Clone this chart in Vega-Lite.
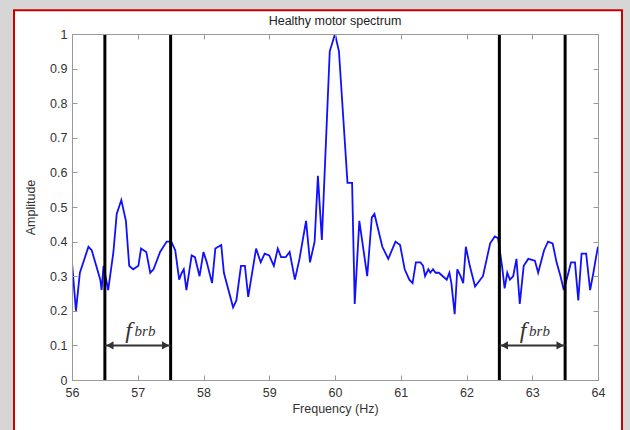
{
  "$schema": "https://vega.github.io/schema/vega-lite/v6.json",
  "width": 526,
  "height": 346,
  "autosize": "none",
  "padding": {"left": 72, "top": 34, "right": 32, "bottom": 50},
  "background": "#d6d6d6",
  "title": {"text": "Healthy motor spectrum", "font": "Liberation Sans", "fontSize": 12.5, "fontWeight": "normal", "color": "#222", "offset": -18},
  "config": {
    "view": {"stroke": null},
    "axis": {"labelFont": "Liberation Sans", "labelFontSize": 12.5, "labelColor": "#333", "titleFont": "Liberation Sans", "titleFontSize": 12.5, "titleFontWeight": "normal", "titleColor": "#333", "tickColor": "#999", "domain": true, "domainColor": "#9a9a9a", "domainWidth": 1, "grid": false, "tickSize": -5, "labelFlush": false}
  },
  "datasets": {
    "spectrum": [
      {"f":56.00,"a":0.34},{"f":56.06,"a":0.20},{"f":56.12,"a":0.31},{"f":56.25,"a":0.385},{"f":56.30,"a":0.375},
      {"f":56.43,"a":0.29},{"f":56.45,"a":0.26},{"f":56.48,"a":0.33},{"f":56.55,"a":0.26},{"f":56.63,"a":0.37},
      {"f":56.68,"a":0.48},{"f":56.75,"a":0.52},{"f":56.82,"a":0.46},{"f":56.87,"a":0.33},{"f":56.93,"a":0.32},
      {"f":57.01,"a":0.33},{"f":57.05,"a":0.38},{"f":57.13,"a":0.37},{"f":57.19,"a":0.31},{"f":57.24,"a":0.32},
      {"f":57.34,"a":0.37},{"f":57.44,"a":0.40},{"f":57.51,"a":0.40},{"f":57.57,"a":0.375},{"f":57.63,"a":0.29},
      {"f":57.67,"a":0.31},{"f":57.70,"a":0.32},{"f":57.74,"a":0.26},{"f":57.82,"a":0.36},{"f":57.87,"a":0.355},
      {"f":57.94,"a":0.30},{"f":58.00,"a":0.37},{"f":58.05,"a":0.34},{"f":58.13,"a":0.28},{"f":58.18,"a":0.38},
      {"f":58.27,"a":0.39},{"f":58.31,"a":0.31},{"f":58.45,"a":0.21},{"f":58.50,"a":0.23},{"f":58.57,"a":0.33},
      {"f":58.63,"a":0.33},{"f":58.68,"a":0.24},{"f":58.80,"a":0.38},{"f":58.87,"a":0.34},{"f":58.93,"a":0.365},
      {"f":59.00,"a":0.36},{"f":59.07,"a":0.33},{"f":59.13,"a":0.38},{"f":59.18,"a":0.355},{"f":59.25,"a":0.355},
      {"f":59.31,"a":0.37},{"f":59.39,"a":0.29},{"f":59.46,"a":0.35},{"f":59.56,"a":0.46},{"f":59.62,"a":0.34},
      {"f":59.69,"a":0.40},{"f":59.74,"a":0.59},{"f":59.80,"a":0.405},{"f":59.92,"a":0.95},{"f":60.00,"a":1.0},
      {"f":60.06,"a":0.95},{"f":60.19,"a":0.57},{"f":60.26,"a":0.57},{"f":60.30,"a":0.22},{"f":60.37,"a":0.46},
      {"f":60.49,"a":0.30},{"f":60.56,"a":0.47},{"f":60.60,"a":0.48},{"f":60.72,"a":0.385},{"f":60.81,"a":0.35},
      {"f":60.92,"a":0.40},{"f":60.99,"a":0.39},{"f":61.06,"a":0.32},{"f":61.13,"a":0.29},{"f":61.18,"a":0.28},
      {"f":61.23,"a":0.34},{"f":61.30,"a":0.34},{"f":61.34,"a":0.33},{"f":61.37,"a":0.30},{"f":61.42,"a":0.32},
      {"f":61.45,"a":0.31},{"f":61.49,"a":0.32},{"f":61.53,"a":0.31},{"f":61.58,"a":0.31},{"f":61.64,"a":0.30},
      {"f":61.70,"a":0.29},{"f":61.74,"a":0.31},{"f":61.77,"a":0.28},{"f":61.82,"a":0.19},{"f":61.86,"a":0.32},
      {"f":61.91,"a":0.30},{"f":61.95,"a":0.28},{"f":61.99,"a":0.385},{"f":62.05,"a":0.33},{"f":62.13,"a":0.27},
      {"f":62.25,"a":0.30},{"f":62.36,"a":0.395},{"f":62.43,"a":0.415},{"f":62.48,"a":0.41},{"f":62.54,"a":0.33},
      {"f":62.58,"a":0.265},{"f":62.62,"a":0.31},{"f":62.66,"a":0.29},{"f":62.71,"a":0.30},{"f":62.76,"a":0.35},
      {"f":62.81,"a":0.22},{"f":62.87,"a":0.33},{"f":62.94,"a":0.35},{"f":63.04,"a":0.345},{"f":63.09,"a":0.31},
      {"f":63.18,"a":0.375},{"f":63.24,"a":0.40},{"f":63.31,"a":0.395},{"f":63.37,"a":0.34},{"f":63.43,"a":0.30},
      {"f":63.48,"a":0.26},{"f":63.55,"a":0.31},{"f":63.59,"a":0.34},{"f":63.65,"a":0.34},{"f":63.70,"a":0.23},
      {"f":63.75,"a":0.365},{"f":63.82,"a":0.365},{"f":63.88,"a":0.26},{"f":63.93,"a":0.31},{"f":63.97,"a":0.355},
      {"f":64.00,"a":0.385}
    ],
    "bands": [
      {"f":56.5},{"f":57.5},{"f":62.5},{"f":63.5}
    ],
    "arrows": [
      {"start":56.5,"end":57.5,"level":0.1,"labelAt":56.86}, 
      {"start":62.5,"end":63.5,"level":0.1,"labelAt":62.86}
    ]
  },
  "layer": [
    {
      "data": {"values": [{"x1": 55.118, "x2": 64.365, "y1": 1.069, "y2": -0.25}]},
      "mark": {"type": "rect", "fill": "white", "stroke": "#c80000", "strokeWidth": 2, "clip": false},
      "encoding": {
        "x": {"field": "x1", "type": "quantitative", "scale": {"domain": [56, 64]}, "axis": null},
        "x2": {"field": "x2"},
        "y": {"field": "y1", "type": "quantitative", "scale": {"domain": [0, 1]}, "axis": null},
        "y2": {"field": "y2"}
      }
    },
    {
      "data": {"name": "spectrum"},
      "mark": {"type": "line", "color": "#1010ff", "strokeWidth": 1.8, "clip": true},
      "encoding": {
        "x": {"field": "f", "type": "quantitative", "scale": {"domain": [56, 64], "nice": false},
              "axis": {"orient": "bottom", "zindex": 1, "title": "Frequency (Hz)", "values": [56,57,58,59,60,61,62,63,64], "labelPadding": 11, "titlePadding": 4}},
        "y": {"field": "a", "type": "quantitative", "scale": {"domain": [0, 1], "nice": false},
              "axis": {"orient": "left", "zindex": 1, "title": "Amplitude", "format": "~g", "values": [0,0.1,0.2,0.3,0.4,0.5,0.6,0.7,0.8,0.9,1], "labelPadding": 10, "titlePadding": 12}}
      }
    },
    {
      "data": {"name": "bands"},
      "mark": {"type": "rule", "color": "black", "strokeWidth": 3},
      "encoding": {
        "x": {"field": "f", "type": "quantitative",
              "axis": {"orient": "top", "zindex": 1, "title": null, "labels": false, "values": [56,57,58,59,60,61,62,63,64]}}
      }
    },
    {
      "data": {"name": "bands"},
      "mark": {"type": "rule", "opacity": 0},
      "encoding": {
        "x": {"field": "f", "type": "quantitative", "axis": null},
        "y": {"datum": 0.5, "type": "quantitative",
              "axis": {"orient": "right", "zindex": 1, "title": null, "labels": false, "values": [0,0.1,0.2,0.3,0.4,0.5,0.6,0.7,0.8,0.9,1]}}
      }
    },
    {
      "data": {"name": "arrows"},
      "mark": {"type": "rule", "color": "#333", "strokeWidth": 2},
      "encoding": {
        "x": {"field": "start", "type": "quantitative", "axis": null},
        "x2": {"field": "end"},
        "y": {"field": "level", "type": "quantitative", "axis": null}
      }
    },
    {
      "data": {"name": "arrows"},
      "mark": {"type": "point", "shape": "triangle-left", "filled": true, "color": "#333", "size": 70, "opacity": 1, "xOffset": 5},
      "encoding": {
        "x": {"field": "start", "type": "quantitative", "axis": null},
        "y": {"field": "level", "type": "quantitative", "axis": null}
      }
    },
    {
      "data": {"name": "arrows"},
      "mark": {"type": "point", "shape": "triangle-right", "filled": true, "color": "#333", "size": 70, "opacity": 1, "xOffset": -5},
      "encoding": {
        "x": {"field": "end", "type": "quantitative", "axis": null},
        "y": {"field": "level", "type": "quantitative", "axis": null}
      }
    },
    {
      "data": {"name": "arrows"},
      "mark": {"type": "text", "text": "f", "font": "Liberation Serif", "fontStyle": "italic", "fontSize": 24, "color": "#333", "align": "center", "baseline": "alphabetic", "dy": -7},
      "encoding": {
        "x": {"field": "labelAt", "type": "quantitative", "axis": null},
        "y": {"field": "level", "type": "quantitative", "axis": null}
      }
    },
    {
      "data": {"name": "arrows"},
      "mark": {"type": "text", "text": "brb", "font": "Liberation Serif", "fontStyle": "italic", "fontSize": 15, "color": "#333", "align": "left", "baseline": "alphabetic", "dx": 6, "dy": -9},
      "encoding": {
        "x": {"field": "labelAt", "type": "quantitative", "axis": null},
        "y": {"field": "level", "type": "quantitative", "axis": null}
      }
    }
  ],
  "resolve": {"axis": {"x": "independent", "y": "independent"}}
}
